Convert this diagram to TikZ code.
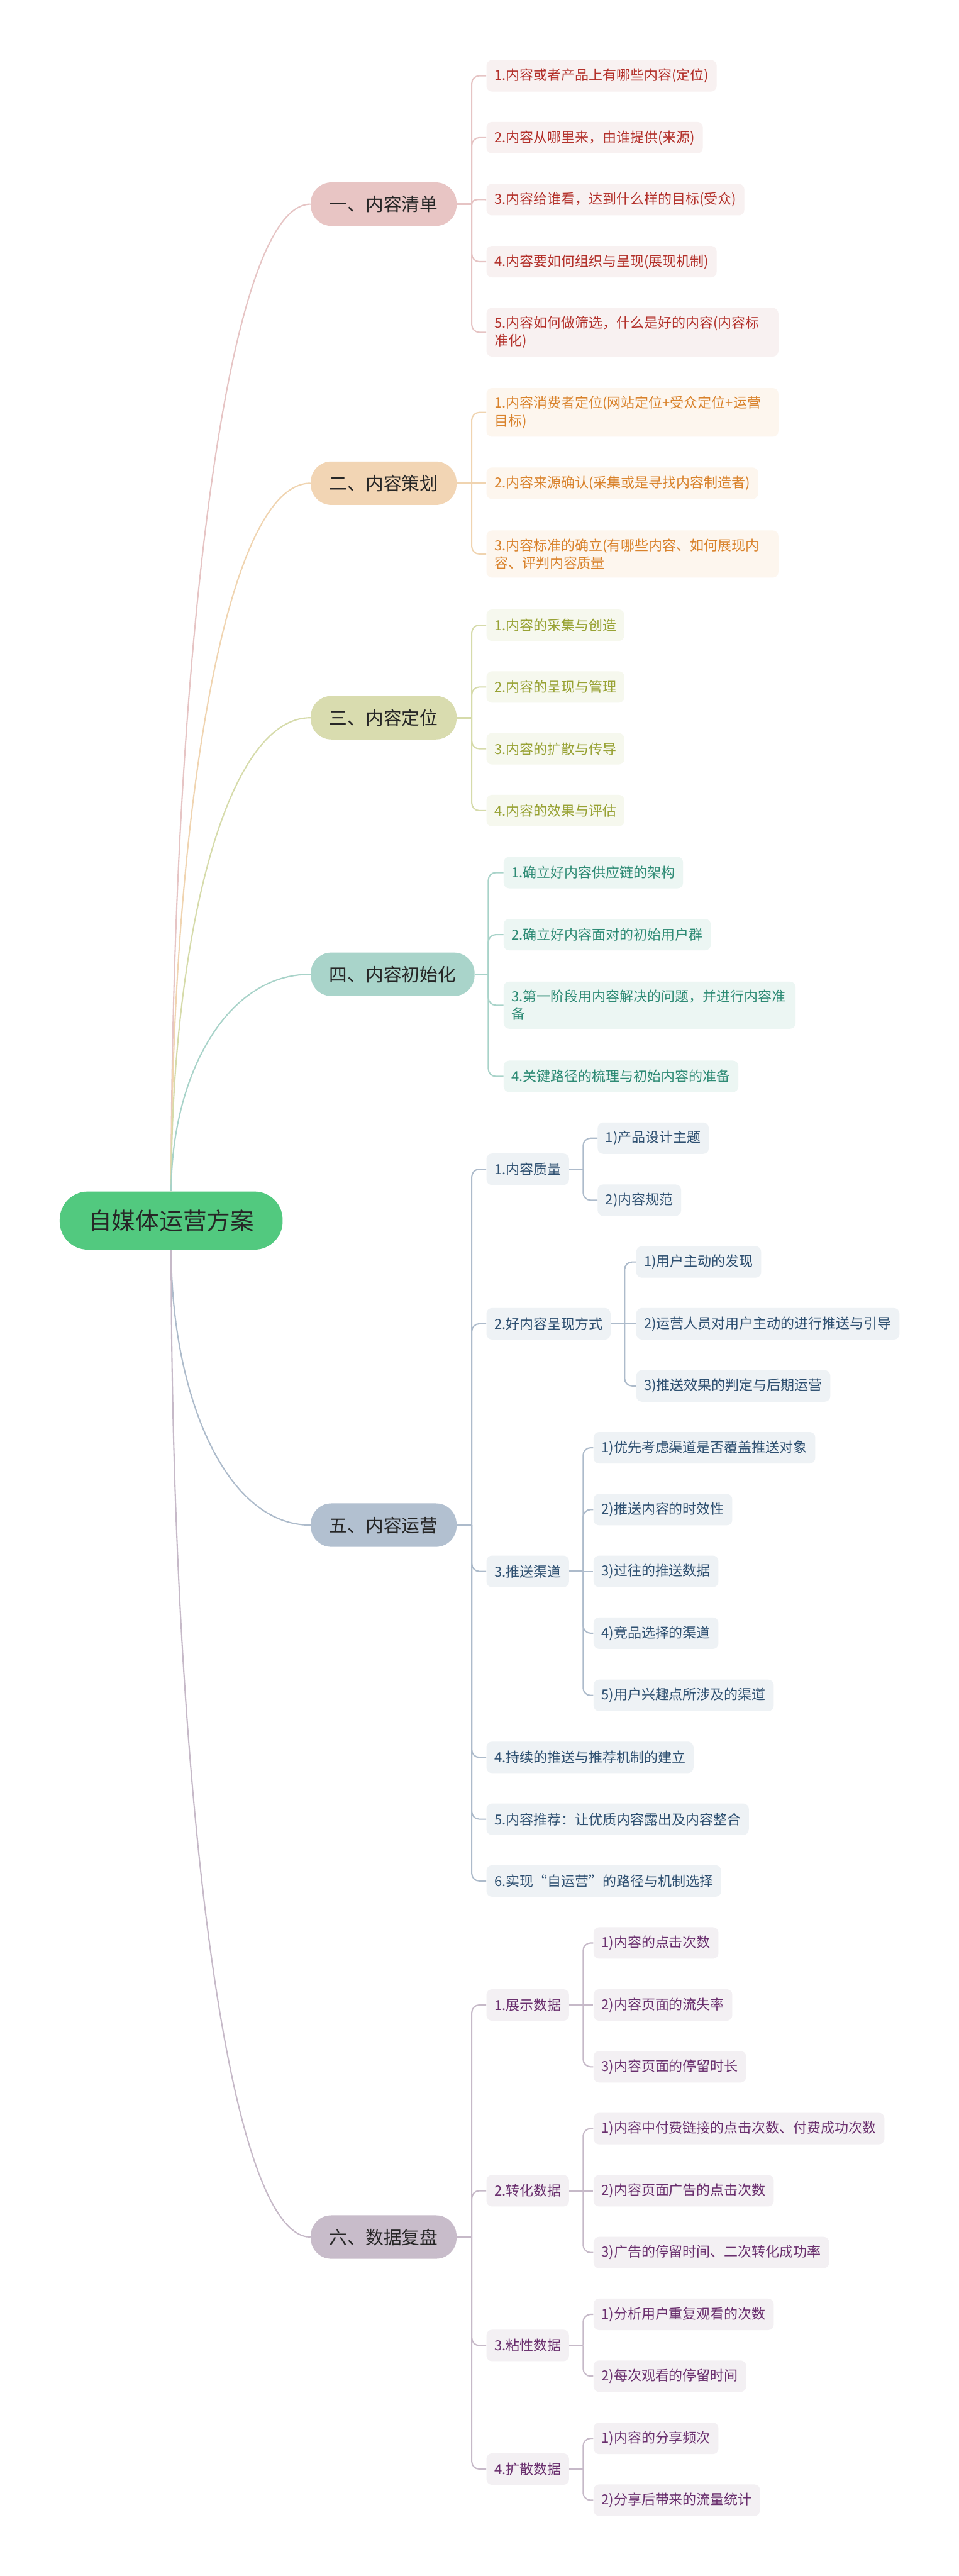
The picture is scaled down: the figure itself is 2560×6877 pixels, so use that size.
\documentclass[tikz,border=0pt]{standalone}
\usepackage{fontspec}
\setmainfont{Noto Sans CJK SC}
\definecolor{planfill}{HTML}{52C97F}
\definecolor{inkdark}{HTML}{262626}
% section colours: node, line, leaf background, leaf text
\definecolor{nodeA}{HTML}{E8C5C4}\definecolor{lnA}{HTML}{E6C4C4}\definecolor{bgA}{HTML}{F8F1F1}\definecolor{txA}{HTML}{B3302A}
\definecolor{nodeB}{HTML}{F2D5B4}\definecolor{lnB}{HTML}{F0D4B0}\definecolor{bgB}{HTML}{FDF6EE}\definecolor{txB}{HTML}{D9822B}
\definecolor{nodeC}{HTML}{D9DCAF}\definecolor{lnC}{HTML}{D6DBAA}\definecolor{bgC}{HTML}{F6F8EE}\definecolor{txC}{HTML}{98A234}
\definecolor{nodeD}{HTML}{A9D4CA}\definecolor{lnD}{HTML}{A8D3C9}\definecolor{bgD}{HTML}{ECF6F3}\definecolor{txD}{HTML}{2E8B75}
\definecolor{nodeE}{HTML}{B2C0D0}\definecolor{lnE}{HTML}{ADBBCB}\definecolor{bgE}{HTML}{EEF2F5}\definecolor{txE}{HTML}{2E5071}
\definecolor{nodeF}{HTML}{C8BCCA}\definecolor{lnF}{HTML}{C6B9C8}\definecolor{bgF}{HTML}{F3F0F3}\definecolor{txF}{HTML}{6A2F6E}
\tikzstyle{plan}=[rectangle, rounded corners=0.75cm, fill=planfill, text=inkdark, font=\fontsize{18}{22}\selectfont, minimum height=1.55cm, inner xsep=0.76cm]
\tikzstyle{chapter}=[rectangle, rounded corners=0.55cm, text=inkdark, font=\fontsize{13.7}{16}\selectfont, minimum height=1.16cm, inner xsep=0.5cm, anchor=west]
\tikzstyle{item}=[rectangle, rounded corners=0.15cm, font=\fontsize{10.5}{13.5}\selectfont, minimum height=0.84cm, inner xsep=0.21cm, inner ysep=0.22cm, align=left, anchor=west]
\tikzstyle{itemA}=[item, fill=bgA, text=txA]
\tikzstyle{itemB}=[item, fill=bgB, text=txB]
\tikzstyle{itemC}=[item, fill=bgC, text=txC]
\tikzstyle{itemD}=[item, fill=bgD, text=txD]
\tikzstyle{itemE}=[item, fill=bgE, text=txE]
\tikzstyle{itemF}=[item, fill=bgF, text=txF]
\tikzstyle{bough}=[line width=1pt]
\tikzstyle{stub}=[line width=1.5pt]
\tikzstyle{twig}=[line width=1pt, rounded corners=0.2cm]
\begin{document}
\begin{tikzpicture}[x=0.01cm, y=0.01cm]
\fill[white] (0,0) rectangle (2560,-6877);
\useasboundingbox (0,0) rectangle (2560,-6877);

% Root
\node[plan] (plan) at (457,-3258.5) {自媒体运营方案};

% Chapters
\node[chapter, fill=nodeA] (secA) at (829,-545) {一、内容清单};
\node[chapter, fill=nodeB] (secB) at (829,-1290) {二、内容策划};
\node[chapter, fill=nodeC] (secC) at (829,-1916) {三、内容定位};
\node[chapter, fill=nodeD] (secD) at (829,-2601) {四、内容初始化};
\node[chapter, fill=nodeE] (secE) at (829,-4071.5) {五、内容运营};
\node[chapter, fill=nodeF] (secF) at (829,-5972) {六、数据复盘};

% 一
\node[itemA] (l11) at (1298,-202.5) {1.内容或者产品上有哪些内容(定位)};
\node[itemA] (l12) at (1298,-367.5) {2.内容从哪里来，由谁提供(来源)};
\node[itemA] (l13) at (1298,-533) {3.内容给谁看，达到什么样的目标(受众)};
\node[itemA] (l14) at (1298,-698.5) {4.内容要如何组织与呈现(展现机制)};
\node[itemA, text width=7.37cm] (l15) at (1298,-887) {5.内容如何做筛选，什么是好的内容(内容标\\准化)};

% 二
\node[itemB, text width=7.37cm] (l21) at (1298,-1101) {1.内容消费者定位(网站定位+受众定位+运营\\目标)};
\node[itemB] (l22) at (1298,-1290) {2.内容来源确认(采集或是寻找内容制造者)};
\node[itemB, text width=7.37cm] (l23) at (1298,-1479) {3.内容标准的确立(有哪些内容、如何展现内\\容、评判内容质量};

% 三
\node[itemC] (l31) at (1298,-1669) {1.内容的采集与创造};
\node[itemC] (l32) at (1298,-1834) {2.内容的呈现与管理};
\node[itemC] (l33) at (1298,-1999) {3.内容的扩散与传导};
\node[itemC] (l34) at (1298,-2164) {4.内容的效果与评估};

% 四
\node[itemD] (l41) at (1344,-2329.5) {1.确立好内容供应链的架构};
\node[itemD] (l42) at (1344,-2495) {2.确立好内容面对的初始用户群};
\node[itemD, text width=7.37cm] (l43) at (1344,-2683.5) {3.第一阶段用内容解决的问题，并进行内容准\\备};
\node[itemD] (l44) at (1344,-2873.5) {4.关键路径的梳理与初始内容的准备};

% 五
\node[itemE] (e1) at (1298,-3121.5) {1.内容质量};
\node[itemE] (e11) at (1595,-3038.5) {1)产品设计主题};
\node[itemE] (e12) at (1595,-3204) {2)内容规范};
\node[itemE] (e2) at (1298,-3534) {2.好内容呈现方式};
\node[itemE] (e21) at (1698,-3369) {1)用户主动的发现};
\node[itemE] (e22) at (1698,-3534) {2)运营人员对用户主动的进行推送与引导};
\node[itemE] (e23) at (1698,-3700) {3)推送效果的判定与后期运营};
\node[itemE] (e3) at (1298,-4195) {3.推送渠道};
\node[itemE] (e31) at (1584,-3865) {1)优先考虑渠道是否覆盖推送对象};
\node[itemE] (e32) at (1584,-4030) {2)推送内容的时效性};
\node[itemE] (e33) at (1584,-4195) {3)过往的推送数据};
\node[itemE] (e34) at (1584,-4360) {4)竞品选择的渠道};
\node[itemE] (e35) at (1584,-4526) {5)用户兴趣点所涉及的渠道};
\node[itemE] (e4) at (1298,-4691.5) {4.持续的推送与推荐机制的建立};
\node[itemE] (e5) at (1298,-4856.5) {5.内容推荐：让优质内容露出及内容整合};
\node[itemE] (e6) at (1298,-5021.5) {6.实现“自运营”的路径与机制选择};

% 六
\node[itemF] (f1) at (1298,-5352.5) {1.展示数据};
\node[itemF] (f11) at (1584,-5187) {1)内容的点击次数};
\node[itemF] (f12) at (1584,-5352.5) {2)内容页面的流失率};
\node[itemF] (f13) at (1584,-5517.5) {3)内容页面的停留时长};
\node[itemF] (f2) at (1298,-5848.5) {2.转化数据};
\node[itemF] (f21) at (1584,-5682.5) {1)内容中付费链接的点击次数、付费成功次数};
\node[itemF] (f22) at (1584,-5848.5) {2)内容页面广告的点击次数};
\node[itemF] (f23) at (1584,-6013.5) {3)广告的停留时间、二次转化成功率};
\node[itemF] (f3) at (1298,-6261.5) {3.粘性数据};
\node[itemF] (f31) at (1584,-6178.5) {1)分析用户重复观看的次数};
\node[itemF] (f32) at (1584,-6343.5) {2)每次观看的停留时间};
\node[itemF] (f4) at (1298,-6591.5) {4.扩散数据};
\node[itemF] (f41) at (1584,-6509.5) {1)内容的分享频次};
\node[itemF] (f42) at (1584,-6674.5) {2)分享后带来的流量统计};

% Root to chapters
\draw[bough, lnA] (plan.north) to[out=90, in=180, out distance=13.7cm, in distance=2.3cm] (secA.west);
\draw[bough, lnB] (plan.north) to[out=90, in=180, out distance=9.8cm, in distance=2.3cm] (secB.west);
\draw[bough, lnC] (plan.north) to[out=90, in=180, out distance=6.6cm, in distance=2.3cm] (secC.west);
\draw[bough, lnD] (plan.north) to[out=90, in=180, out distance=3.0cm, in distance=2.3cm] (secD.west);
\draw[bough, lnE] (plan.south) to[out=270, in=180, out distance=3.8cm, in distance=2.3cm] (secE.west);
\draw[bough, lnF] (plan.south) to[out=270, in=180, out distance=13.7cm, in distance=2.3cm] (secF.west);

% 一 links
\draw[stub, lnA] (secA.east) -- ++(40,0) coordinate (secAx);
\draw[twig, lnA] (secAx) |- (l11.west);
\draw[twig, lnA] (secAx) |- (l12.west);
\draw[twig, lnA] (secAx) to[out=90, in=180] (l13.west);
\draw[twig, lnA] (secAx) |- (l14.west);
\draw[twig, lnA] (secAx) |- (l15.west);

% 二 links
\draw[stub, lnB] (secB.east) -- ++(40,0) coordinate (secBx);
\draw[twig, lnB] (secBx) |- (l21.west);
\draw[twig, lnB] (secBx) -- (l22.west);
\draw[twig, lnB] (secBx) |- (l23.west);

% 三 links
\draw[stub, lnC] (secC.east) -- ++(40,0) coordinate (secCx);
\draw[twig, lnC] (secCx) |- (l31.west);
\draw[twig, lnC] (secCx) |- (l32.west);
\draw[twig, lnC] (secCx) |- (l33.west);
\draw[twig, lnC] (secCx) |- (l34.west);

% 四 links
\draw[stub, lnD] (secD.east) -- ++(36,0) coordinate (secDx);
\draw[twig, lnD] (secDx) |- (l41.west);
\draw[twig, lnD] (secDx) |- (l42.west);
\draw[twig, lnD] (secDx) |- (l43.west);
\draw[twig, lnD] (secDx) |- (l44.west);

% 五 links
\draw[stub, lnE] (secE.east) -- ++(40,0) coordinate (secEx);
\draw[twig, lnE] (secEx) |- (e1.west);
\draw[twig, lnE] (secEx) |- (e2.west);
\draw[twig, lnE] (secEx) |- (e3.west);
\draw[twig, lnE] (secEx) |- (e4.west);
\draw[twig, lnE] (secEx) |- (e5.west);
\draw[twig, lnE] (secEx) |- (e6.west);
\draw[stub, lnE] (e1.east) -- ++(37,0) coordinate (e1x);
\draw[twig, lnE] (e1x) |- (e11.west);
\draw[twig, lnE] (e1x) |- (e12.west);
\draw[stub, lnE] (e2.east) -- ++(37,0) coordinate (e2x);
\draw[twig, lnE] (e2x) |- (e21.west);
\draw[twig, lnE] (e2x) -- (e22.west);
\draw[twig, lnE] (e2x) |- (e23.west);
\draw[stub, lnE] (e3.east) -- ++(37,0) coordinate (e3x);
\draw[twig, lnE] (e3x) |- (e31.west);
\draw[twig, lnE] (e3x) |- (e32.west);
\draw[twig, lnE] (e3x) -- (e33.west);
\draw[twig, lnE] (e3x) |- (e34.west);
\draw[twig, lnE] (e3x) |- (e35.west);

% 六 links
\draw[stub, lnF] (secF.east) -- ++(40,0) coordinate (secFx);
\draw[twig, lnF] (secFx) |- (f1.west);
\draw[twig, lnF] (secFx) |- (f2.west);
\draw[twig, lnF] (secFx) |- (f3.west);
\draw[twig, lnF] (secFx) |- (f4.west);
\draw[stub, lnF] (f1.east) -- ++(37,0) coordinate (f1x);
\draw[twig, lnF] (f1x) |- (f11.west);
\draw[twig, lnF] (f1x) -- (f12.west);
\draw[twig, lnF] (f1x) |- (f13.west);
\draw[stub, lnF] (f2.east) -- ++(37,0) coordinate (f2x);
\draw[twig, lnF] (f2x) |- (f21.west);
\draw[twig, lnF] (f2x) -- (f22.west);
\draw[twig, lnF] (f2x) |- (f23.west);
\draw[stub, lnF] (f3.east) -- ++(37,0) coordinate (f3x);
\draw[twig, lnF] (f3x) |- (f31.west);
\draw[twig, lnF] (f3x) |- (f32.west);
\draw[stub, lnF] (f4.east) -- ++(37,0) coordinate (f4x);
\draw[twig, lnF] (f4x) |- (f41.west);
\draw[twig, lnF] (f4x) |- (f42.west);

\end{tikzpicture}
\end{document}
